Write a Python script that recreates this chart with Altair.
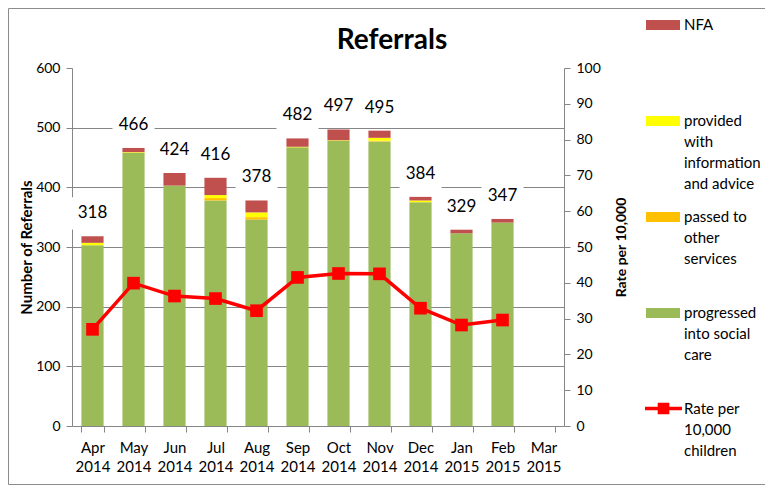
import altair as alt
import pandas as pd

months = ["Apr 2014", "May 2014", "Jun 2014", "Jul 2014", "Aug 2014", "Sep 2014",
          "Oct 2014", "Nov 2014", "Dec 2014", "Jan 2015", "Feb 2015", "Mar 2015"]
progressed = [303, 458, 403, 378, 346, 467, 478, 477, 375, 323, 341, None]
passed = [0, 0, 0, 4, 4, 0, 0, 1, 0, 0, 0, None]
provided = [4, 1, 0, 5, 8, 1, 1, 5, 3, 0, 0, None]
nfa = [11, 7, 21, 29, 20, 14, 18, 12, 6, 6, 6, None]
rate = [27.0, 39.9, 36.3, 35.6, 32.2, 41.5, 42.6, 42.5, 32.9, 28.2, 29.6, None]

cat_progressed = "progressed into social care"
cat_passed = "passed to other services"
cat_provided = "provided with information and advice"
cat_nfa = "NFA"
rate_name = "Rate per 10,000 children"

legend_domain = [cat_nfa, cat_provided, cat_passed, cat_progressed]
legend_colors = ["#C0504D", "#FFFF00", "#FFC000", "#9BBB59"]
legend_lines = {
    cat_nfa: ["NFA", "", "", ""],
    cat_provided: ["provided", "with", "information", "and advice"],
    cat_passed: ["passed to", "other", "services", ""],
    cat_progressed: ["progressed", "into social", "care", ""],
}
rate_lines = ["Rate per", "10,000", "children"]

FONT = "Lato"
AX = "#868686"

rows = []
for i, m in enumerate(months):
    for order, (name, vals) in enumerate([(cat_progressed, progressed), (cat_passed, passed),
                                          (cat_provided, provided), (cat_nfa, nfa)]):
        if vals[i] is not None:
            rows.append({"month": m, "category": name, "value": vals[i], "order": order})
bars_df = pd.DataFrame(rows)

tot_rows = []
for i, m in enumerate(months):
    if progressed[i] is not None:
        tot_rows.append({"month": m, "total": progressed[i] + passed[i] + provided[i] + nfa[i]})
tot_df = pd.DataFrame(tot_rows)

rate_df = pd.DataFrame({"month": months, "rate": rate, "series": [rate_name] * len(months)})
rate_df = rate_df.dropna()

xscale = alt.Scale(domain=months, paddingInner=0.46, paddingOuter=0.23)
yscale = alt.Scale(domain=[0, 600])


def arr(lines):
    return "[" + ",".join("'" + s + "'" for s in lines) + "]"


fill_label_expr = " : ".join(
    "datum.label == '" + k + "' ? " + arr(v) for k, v in legend_lines.items()
) + " : datum.label"
rate_label_expr = arr(rate_lines)

grid_cond = {"condition": {"test": "datum.value == 0 || datum.value == 600", "value": "transparent"},
             "value": AX}

xaxis = alt.Axis(labelExpr="split(datum.label, ' ')", labelAngle=0, tickBand="extent",
                 domainColor=AX, tickColor=AX, tickSize=6, labelFont=FONT, labelFontSize=15,
                 labelColor="#000", labelPadding=8, labelLineHeight=19)


def xenc():
    return alt.X("month:N", scale=xscale, sort=months, title=None, axis=xaxis)


frame = alt.Chart(pd.DataFrame({"a": [0]})).mark_rect(
    fill="transparent", stroke="#8c8c8c", strokeWidth=1
).encode(x=alt.value(-63.5), x2=alt.value(720), y=alt.value(-59.5), y2=alt.value(416.5))

bars = alt.Chart(bars_df).mark_bar().encode(
    x=xenc(),
    y=alt.Y("value:Q", stack="zero", scale=yscale,
            axis=alt.Axis(title="Number of Referrals", values=[0, 100, 200, 300, 400, 500, 600],
                          grid=True, gridColor=grid_cond, domainColor=AX, tickColor=AX, tickSize=6,
                          labelFont=FONT, labelFontSize=14, labelColor="#000", labelPadding=6,
                          titleFont=FONT, titleFontSize=15, titleFontWeight="bold", titleColor="#000",
                          titlePadding=1)),
    color=alt.Color("category:N", scale=alt.Scale(domain=legend_domain, range=legend_colors),
                    legend=alt.Legend(title=None, orient="none", legendX=574, legendY=-60,
                                      symbolType="M-1,-0.29H1V0.29H-1Z", symbolSize=1156,
                                      symbolStrokeWidth=0, labelExpr=fill_label_expr,
                                      labelFont=FONT, labelFontSize=15, labelColor="#000",
                                      rowPadding=8, labelOffset=4, padding=0)),
    order=alt.Order("order:Q"),
)

boxes = alt.Chart(tot_df).transform_calculate(
    lo="datum.total + 38.5 - 27", hi="datum.total + 38.5 + 27"
).mark_bar(color="white", width={"band": 1.9}).encode(
    x=xenc(),
    y=alt.Y("lo:Q", scale=yscale, axis=None),
    y2="hi:Q",
)

labels = alt.Chart(tot_df).transform_calculate(
    ly="datum.total + 38.5"
).mark_text(font=FONT, fontSize=17, color="#000", baseline="middle").encode(
    x=xenc(),
    y=alt.Y("ly:Q", scale=yscale, axis=None),
    text=alt.Text("total:Q"),
)

rscale = alt.Scale(domain=[0, 100])
line = alt.Chart(rate_df).mark_line(strokeWidth=3.5).encode(
    x=xenc(),
    y=alt.Y("rate:Q", scale=rscale,
            axis=alt.Axis(orient="right", title="Rate per 10,000", values=list(range(0, 101, 10)),
                          grid=False, domainColor=AX, tickColor=AX, tickSize=6,
                          labelFont=FONT, labelFontSize=14, labelColor="#000", labelPadding=6,
                          titleFont=FONT, titleFontSize=14, titleFontWeight="bold", titleColor="#000",
                          titleAngle=270, titlePadding=28)),
    stroke=alt.Stroke("series:N", scale=alt.Scale(domain=[rate_name], range=["#FF0000"]),
                      legend=alt.Legend(title=None, orient="none", legendX=571, legendY=320,
                                        symbolType="M-1,0H1M-0.22,-0.22H0.22V0.22H-0.22Z",
                                        symbolSize=1369, symbolStrokeWidth=3.5,
                                        symbolFillColor="#FF0000", labelExpr=rate_label_expr,
                                        labelFont=FONT, labelFontSize=15, labelColor="#000",
                                        labelOffset=0, padding=0)),
)

squares = alt.Chart(rate_df).mark_square(size=160, color="#FF0000", opacity=1).encode(
    x=xenc(),
    y=alt.Y("rate:Q", scale=rscale, axis=None),
)

chart = alt.layer(bars, boxes, labels, line, squares, frame).resolve_scale(y="independent").properties(
    width=492, height=358,
    title=alt.Title("Referrals", font=FONT, fontSize=28, fontWeight="bold", color="#000",
                    anchor="middle", frame="group", dx=74, offset=-47),
    autosize=alt.AutoSizeParams(type="none"),
    padding={"left": 64, "top": 60, "right": 201, "bottom": 59},
).configure(
    background="white",
    style={"guide-label": {"lineHeight": 21}},
).configure_view(strokeWidth=0)

chart.save("out.html", embed_options={"renderer": "svg", "actions": False})
